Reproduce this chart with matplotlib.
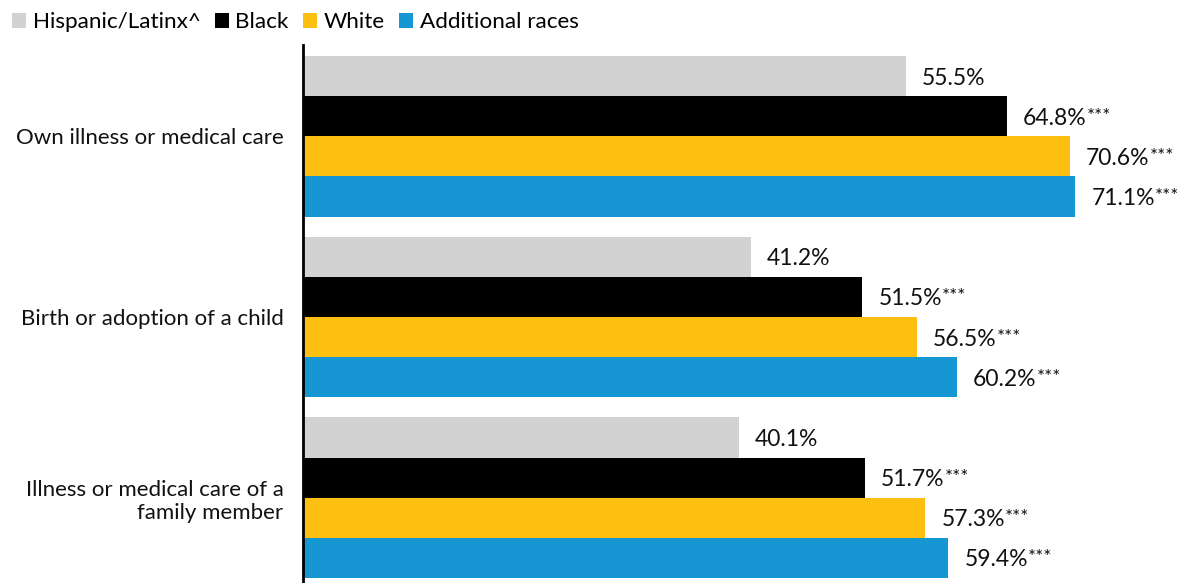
import matplotlib

matplotlib.use("Agg")
import matplotlib.pyplot as plt
import numpy as np
from matplotlib.patches import Patch

plt.rcParams["font.family"] = ["Lato", "DejaVu Sans"]

# Share of workers with access to paid leave, by reason and race/ethnicity
CATEGORIES = [
    "Own illness or medical care",
    "Birth or adoption of a child",
    "Illness or medical care of a\nfamily member",
]
SERIES = ["Hispanic/Latinx^", "Black", "White", "Additional races"]
VALUES = [
    [55.5, 64.8, 70.6, 71.1],
    [41.2, 51.5, 56.5, 60.2],
    [40.1, 51.7, 57.3, 59.4],
]
STARS = [
    ["", "***", "***", "***"],
    ["", "***", "***", "***"],
    ["", "***", "***", "***"],
]
COLORS = ["#D2D2D2", "#000000", "#FDBF11", "#1696D2"]

GROUP_STEP = 4.5
BAR_H = 1.0

fig = plt.figure(figsize=(11.79, 5.83), dpi=100)
ax = fig.add_axes([303 / 1179, 0, 869 / 1179, 538 / 583])

for i, row in enumerate(VALUES):
    for j, v in enumerate(row):
        y = i * GROUP_STEP + j * BAR_H
        ax.barh(y, v, height=BAR_H, color=COLORS[j], linewidth=0)
        t = ax.text(v + 1.5, y + 0.05, f"{v:.1f}%", ha="left", va="center",
                    fontsize=16.5, color="#111111")
        if STARS[i][j]:
            ax.annotate(STARS[i][j], xy=(1.0, 1.0), xycoords=t,
                        ha="left", va="top", fontsize=13.5, color="#111111")

ax.set_xlim(0, 80)
ax.set_ylim(12.625, -0.775)
centers = np.arange(len(CATEGORIES)) * GROUP_STEP + 1.5
ax.set_yticks(centers)
ax.set_yticklabels(CATEGORIES, fontsize=16, color="#111111")
ax.tick_params(axis="y", length=0, pad=14)
ax.set_xticks([])
for side in ("top", "right", "bottom"):
    ax.spines[side].set_visible(False)
ax.spines["left"].set_linewidth(2)

handles = [Patch(facecolor=c, edgecolor="none") for c in COLORS]
fig.legend(handles, SERIES, loc="upper left", bbox_to_anchor=(0.0, 1.0),
           ncol=4, frameon=False, fontsize=16.2, handlelength=0.6,
           handleheight=0.6, handletextpad=0.3, columnspacing=0.65,
           borderaxespad=0.15)

fig.savefig("out.png", dpi=100)
